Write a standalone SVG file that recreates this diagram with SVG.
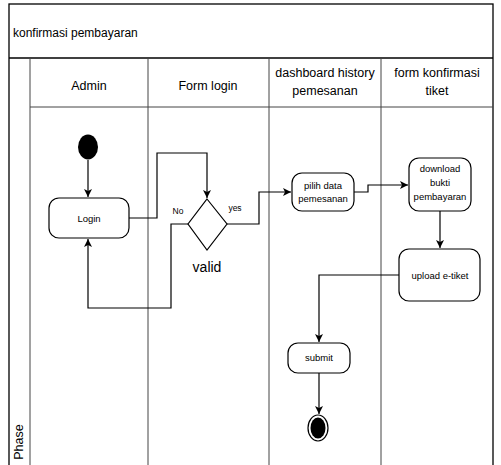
<svg xmlns="http://www.w3.org/2000/svg" width="501" height="465" viewBox="0 0 501 465">
<style>
text{font-family:"Liberation Sans","DejaVu Sans",sans-serif;fill:#000}
.frame{fill:none;stroke:#000;stroke-width:1.3}
.lane{fill:none;stroke:#444;stroke-width:1}
.hdr{font-size:12.5px;text-anchor:middle}
.node{fill:#fff;stroke:#000;stroke-width:1.2}
.nt{font-size:9.5px;text-anchor:middle}
.edge{fill:none;stroke:#000;stroke-width:1.2;marker-end:url(#arr)}
</style>
<defs>
<marker id="arr" markerWidth="10" markerHeight="10" refX="8" refY="4" orient="auto" markerUnits="userSpaceOnUse">
<path d="M0,0 L8,4 L0,8 L2,4 Z" fill="#000"/>
</marker>
</defs>
<rect width="501" height="465" fill="#fff"/>
<g id="pool">
<rect class="frame" x="9" y="4" width="484" height="470"/>
<line class="frame" x1="9" y1="58" x2="493" y2="58"/>
<line class="lane" x1="30" y1="107" x2="493" y2="107"/>
<line class="lane" x1="30" y1="58" x2="30" y2="465"/>
<line class="lane" x1="148" y1="58" x2="148" y2="465"/>
<line class="lane" x1="269" y1="58" x2="269" y2="465"/>
<line class="lane" x1="381" y1="58" x2="381" y2="465"/>
<text x="13" y="37" style="font-size:12px">konfirmasi pembayaran</text>
<text class="hdr" x="89" y="90">Admin</text>
<text class="hdr" x="208" y="90">Form login</text>
<text class="hdr" x="325" y="77">dashboard history</text>
<text class="hdr" x="325" y="95">pemesanan</text>
<text class="hdr" x="437" y="77">form konfirmasi</text>
<text class="hdr" x="437" y="95">tiket</text>
<text x="23" y="442" transform="rotate(-90 23 442)" style="font-size:12.5px;text-anchor:middle">Phase</text>
</g>
<g id="connectors">
<path class="edge" d="M88,160 L88,197"/>
<path class="edge" d="M129,218 L157,218 L157,153 L207,153 L207,198"/>
<path class="edge" d="M188,224 L171,224 L171,308 L88,308 L88,239"/>
<path class="edge" d="M227,224 L259,224 L259,192 L291,192"/>
<path class="edge" d="M354,192 L368,192 L368,185 L408,185"/>
<path class="edge" d="M440,211 L440,248"/>
<path class="edge" d="M399,275 L319,275 L319,342"/>
<path class="edge" d="M319,373 L319,414"/>
<text x="178" y="214" style="font-size:8.5px;text-anchor:middle">No</text>
<text x="235" y="211" style="font-size:8.5px;text-anchor:middle">yes</text>
</g>
<g id="start"><ellipse cx="88" cy="147" rx="10" ry="12.5" fill="#000"/></g>
<g id="login"><rect class="node" x="49" y="198" width="80" height="40" rx="10"/><text class="nt" x="89" y="222">Login</text></g>
<g id="valid"><path class="node" d="M207,199 L227,224 L207,250 L188,224 Z"/><text x="207" y="272" style="font-size:14px;text-anchor:middle">valid</text></g>
<g id="pilih"><rect class="node" x="292" y="173" width="62" height="38" rx="10"/><text class="nt" x="323" y="189">pilih data</text><text class="nt" x="323" y="202">pemesanan</text></g>
<g id="download"><rect class="node" x="409" y="158" width="62" height="53" rx="10"/><text class="nt" x="440" y="172">download</text><text class="nt" x="440" y="186">bukti</text><text class="nt" x="440" y="200">pembayaran</text></g>
<g id="upload"><rect class="node" x="399" y="249" width="81" height="52" rx="10"/><text class="nt" x="440" y="279">upload e-tiket</text></g>
<g id="submit"><rect class="node" x="288" y="343" width="62" height="30" rx="10"/><text class="nt" x="319" y="361">submit</text></g>
<g id="end"><ellipse cx="318" cy="428" rx="10" ry="13" fill="#fff" stroke="#000" stroke-width="1.2"/><ellipse cx="318" cy="428" rx="7.5" ry="10.5" fill="#000"/></g>
</svg>
